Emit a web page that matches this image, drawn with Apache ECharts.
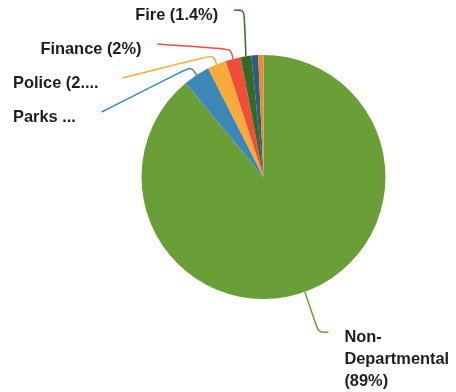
<!DOCTYPE html>
<html>
<head>
<meta charset="utf-8">
<script src="https://cdn.jsdelivr.net/npm/echarts@6/dist/echarts.min.js"></script>
<style>
  html, body { margin: 0; padding: 0; background: #fff; overflow: hidden; }
  #wrap { position: relative; width: 456px; height: 392px; overflow: hidden; }
  /* the canvas sits slightly above the page top so the first label can hug the top edge */
  #chart { position: absolute; left: 0; top: -7px; width: 456px; height: 399px; }
</style>
</head>
<body>
<div id="wrap"><div id="chart"></div></div>
<script>
// Budget share by department (percent of total)
const departments = ['Non-Departmental', 'Parks', 'Police', 'Finance', 'Fire', 'Library', 'Planning'];
const shares = [89, 3.5, 2.5, 2, 1.4, 0.9, 0.7];
const sliceColors = ['#6a9f38', '#3a87b8', '#f8ab3b', '#f24d3b', '#336b23', '#2d5b8a', '#ef8a2f'];
// Slices too thin to carry a label
const unlabelled = ['Library', 'Planning'];

const pieCenter = [263.5, 184];
const labelInset = 13;   // left start of clipped labels
const leaderStub = 10;   // radial stub / horizontal hook of each leader line

const chart = echarts.init(document.getElementById('chart'), null, { renderer: 'canvas' });

const data = departments.map((name, i) => {
  const item = { name: name, value: shares[i], itemStyle: { color: sliceColors[i] } };
  if (unlabelled.indexOf(name) >= 0) {
    item.label = { show: false };
    item.labelLine = { show: false };
  } else if (name === 'Non-Departmental') {
    item.label = { lineHeight: 22, padding: 0, overflow: 'none' };
    item.labelLine = { length: 43, length2: 9 };
  } else if (name === 'Police') {
    item.label = { bleedMargin: 6 };
  } else if (name === 'Parks') {
    item.label = { bleedMargin: 18 };
  }
  return item;
});

// Leader line: steep leaders rise straight and end in a short horizontal hook,
// flat ones leave the slice with a short radial stub first.
function layoutLabel(params) {
  const pts = params.labelLinePoints;
  if (!pts || !pts.length) return {};
  const edge = pts[0];
  const end = pts[pts.length - 1];
  const leftSide = end[0] < edge[0];
  let bend;
  if (Math.abs(end[0] - edge[0]) < Math.abs(end[1] - edge[1])) {
    bend = [end[0] + (leftSide ? leaderStub : -leaderStub), end[1]];
  } else {
    const dx = edge[0] - pieCenter[0];
    const dy = edge[1] - pieCenter[1];
    const d = Math.sqrt(dx * dx + dy * dy);
    bend = [edge[0] + dx / d * leaderStub, edge[1] + dy / d * leaderStub];
  }
  const rect = params.labelRect;
  const extraLines = rect.height > 40 ? (rect.height - 22) / 2 : 0;
  let x = rect.x;
  if (leftSide && rect.x < 2 * labelInset) x = labelInset;
  return {
    x: x,
    y: end[1] + 5 + extraLines,
    align: 'left',
    verticalAlign: 'middle',
    labelLinePoints: [edge, bend, end]
  };
}

chart.setOption({
  animation: false,
  series: [{
    type: 'pie',
    center: pieCenter,
    radius: 122,
    startAngle: 90,
    clockwise: true,
    percentPrecision: 1,
    avoidLabelOverlap: true,
    itemStyle: { borderWidth: 0 },
    label: {
      show: true,
      position: 'outside',
      fontFamily: '"Liberation Sans", Arial, Helvetica, sans-serif',
      fontSize: 16.4,
      fontWeight: 'bold',
      color: '#1e1e1e',
      lineHeight: 20,
      padding: [6, 0, 6, 0],
      distanceToLabelLine: 16,
      bleedMargin: 13,
      overflow: 'truncate',
      ellipsis: '...',
      formatter: function (p) {
        if (p.name.indexOf('-') > 0) {
          return p.name.replace('-', '-\n') + '\n(' + p.percent + '%)';
        }
        return p.name + ' (' + p.percent + '%)';
      }
    },
    labelLine: {
      show: true,
      length: 68,
      length2: 2,
      smooth: 0.3,
      lineStyle: { width: 1.5 }
    },
    labelLayout: layoutLabel,
    data: data
  }]
});
</script>
</body>
</html>
